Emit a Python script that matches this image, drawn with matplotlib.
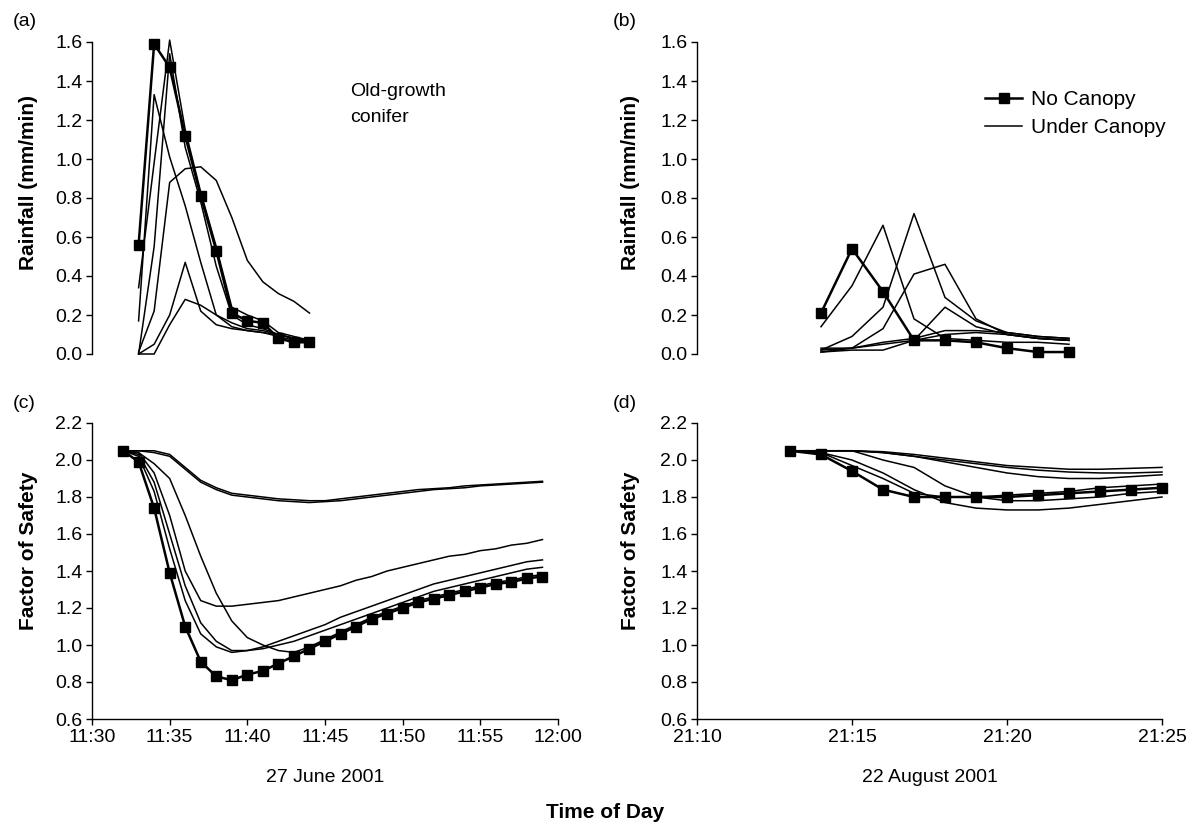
import pandas as pd
import matplotlib
matplotlib.use('Agg')
import matplotlib.pyplot as plt
import matplotlib.dates as mdates

plt.rcParams['font.family'] = ['Liberation Sans', 'DejaVu Sans']

# ---------------- data
# (a) 27 June 2001, rainfall (mm/min), 11:33 - 11:44
rain_a_time = pd.date_range('2001-06-27 11:33', '2001-06-27 11:44', freq='min')
rain_a_open = [0.56, 1.59, 1.47, 1.12, 0.81, 0.53, 0.21, 0.17, 0.16, 0.08, 0.06, 0.06]
rain_a_canopy = [
    [0.01, 0.22, 0.88, 0.95, 0.96, 0.89, 0.70, 0.48, 0.37, 0.31, 0.27, 0.21],
    [0.17, 1.33, 1.01, 0.76, 0.47, 0.20, 0.14, 0.12, 0.11, 0.09, 0.07, 0.06],
    [0.34, 0.98, 1.61, 1.15, 0.83, 0.55, 0.24, 0.20, 0.17, 0.11, 0.09, 0.07],
    [0.00, 0.55, 1.54, 1.06, 0.78, 0.45, 0.20, 0.15, 0.13, 0.10, 0.08, 0.07],
    [0.00, 0.05, 0.20, 0.47, 0.22, 0.15, 0.13, 0.12, 0.11, 0.10, 0.08, 0.06],
    [0.00, 0.00, 0.15, 0.28, 0.25, 0.20, 0.16, 0.13, 0.12, 0.10, 0.08, 0.06],
]

# (b) 22 August 2001, rainfall (mm/min), 21:14 - 21:22
rain_b_time = pd.date_range('2001-08-22 21:14', '2001-08-22 21:22', freq='min')
rain_b_open = [0.21, 0.54, 0.32, 0.07, 0.07, 0.06, 0.03, 0.01, 0.01]
rain_b_canopy = [
    [0.14, 0.35, 0.66, 0.18, 0.08, 0.07, 0.06, 0.06, 0.05],
    [0.02, 0.09, 0.24, 0.72, 0.29, 0.17, 0.11, 0.09, 0.08],
    [0.01, 0.03, 0.13, 0.41, 0.46, 0.18, 0.10, 0.08, 0.07],
    [0.01, 0.02, 0.02, 0.07, 0.24, 0.14, 0.10, 0.08, 0.07],
    [0.02, 0.03, 0.06, 0.08, 0.12, 0.12, 0.11, 0.09, 0.08],
    [0.03, 0.03, 0.05, 0.07, 0.10, 0.11, 0.10, 0.08, 0.07],
]

# (c) factor of safety, 11:32 - 11:59
fos_c_time = pd.date_range('2001-06-27 11:32', '2001-06-27 11:59', freq='min')
fos_c_open = [2.05, 1.99, 1.74, 1.39, 1.10, 0.91, 0.83, 0.81, 0.84, 0.86, 0.90, 0.94,
              0.98, 1.02, 1.06, 1.10, 1.14, 1.17, 1.20, 1.23, 1.25, 1.27, 1.29, 1.31,
              1.33, 1.34, 1.36, 1.37]
fos_c_canopy = [
    [2.05, 2.05, 2.05, 2.03, 1.96, 1.89, 1.85, 1.82, 1.81, 1.80, 1.79, 1.785, 1.78, 1.78,
     1.79, 1.80, 1.81, 1.82, 1.83, 1.84, 1.845, 1.85, 1.86, 1.865, 1.87, 1.875, 1.88, 1.885],
    [2.05, 2.05, 2.04, 2.02, 1.95, 1.88, 1.84, 1.81, 1.80, 1.79, 1.78, 1.775, 1.77, 1.775,
     1.78, 1.79, 1.80, 1.81, 1.82, 1.83, 1.84, 1.845, 1.85, 1.86, 1.865, 1.87, 1.875, 1.88],
    [2.05, 2.04, 1.93, 1.70, 1.40, 1.24, 1.21, 1.21, 1.22, 1.23, 1.24, 1.26, 1.28, 1.30,
     1.32, 1.35, 1.37, 1.40, 1.42, 1.44, 1.46, 1.48, 1.49, 1.51, 1.52, 1.54, 1.55, 1.57],
    [2.05, 2.04, 1.98, 1.90, 1.70, 1.48, 1.28, 1.13, 1.04, 1.00, 0.97, 0.96, 0.99, 1.03,
     1.07, 1.11, 1.15, 1.18, 1.21, 1.24, 1.26, 1.28, 1.30, 1.32, 1.34, 1.35, 1.37, 1.38],
    [2.05, 2.02, 1.83, 1.52, 1.24, 1.06, 0.99, 0.96, 0.97, 0.99, 1.02, 1.05, 1.08, 1.11,
     1.15, 1.18, 1.21, 1.24, 1.27, 1.30, 1.33, 1.35, 1.37, 1.39, 1.41, 1.43, 1.45, 1.46],
    [2.05, 2.03, 1.88, 1.60, 1.32, 1.12, 1.02, 0.97, 0.97, 0.98, 1.00, 1.02, 1.05, 1.08,
     1.11, 1.14, 1.17, 1.20, 1.23, 1.26, 1.29, 1.31, 1.33, 1.35, 1.37, 1.39, 1.41, 1.42],
]

# (d) factor of safety, 21:13 - 21:25
fos_d_time = pd.date_range('2001-08-22 21:13', '2001-08-22 21:25', freq='min')
fos_d_open = [2.05, 2.03, 1.94, 1.84, 1.80, 1.80, 1.80, 1.80, 1.81, 1.82, 1.83, 1.84, 1.85]
fos_d_canopy = [
    [2.05, 2.05, 2.05, 2.045, 2.03, 2.01, 1.99, 1.97, 1.96, 1.95, 1.95, 1.955, 1.96],
    [2.05, 2.05, 2.05, 2.04, 2.02, 2.00, 1.98, 1.96, 1.945, 1.935, 1.93, 1.93, 1.935],
    [2.05, 2.05, 2.05, 2.04, 2.02, 1.99, 1.96, 1.93, 1.91, 1.90, 1.90, 1.91, 1.92],
    [2.05, 2.05, 2.05, 2.00, 1.96, 1.86, 1.80, 1.78, 1.78, 1.79, 1.80, 1.82, 1.83],
    [2.05, 2.04, 2.00, 1.93, 1.84, 1.77, 1.74, 1.73, 1.73, 1.74, 1.76, 1.78, 1.80],
    [2.05, 2.04, 1.97, 1.90, 1.82, 1.80, 1.80, 1.81, 1.82, 1.83, 1.85, 1.86, 1.87],
]

rain_ticks = [0.0, 0.2, 0.4, 0.6, 0.8, 1.0, 1.2, 1.4, 1.6]
fos_ticks = [0.6, 0.8, 1.0, 1.2, 1.4, 1.6, 1.8, 2.0, 2.2]

# ---------------- figure
W, H = 1199, 826
fig = plt.figure(figsize=(W / 100, H / 100), dpi=100)

ax_a = fig.add_axes([92 / W, 1 - 354 / H, 466 / W, 312 / H])
ax_c = fig.add_axes([92 / W, 1 - 719 / H, 466 / W, 296 / H])
ax_b = fig.add_axes([697 / W, 1 - 354 / H, 465 / W, 312 / H])
ax_d = fig.add_axes([697 / W, 1 - 719 / H, 465 / W, 296 / H])

thin = dict(color='black', lw=1.1)
thick = dict(color='black', lw=1.8, marker='s', ms=7, mec='black', mfc='black')

for ax, t, open_vals, canopy in [(ax_a, rain_a_time, rain_a_open, rain_a_canopy),
                                  (ax_b, rain_b_time, rain_b_open, rain_b_canopy),
                                  (ax_c, fos_c_time, fos_c_open, fos_c_canopy),
                                  (ax_d, fos_d_time, fos_d_open, fos_d_canopy)]:
    for i, vals in enumerate(canopy):
        ax.plot(t, vals, label='Under Canopy' if i == 0 else None, clip_on=False, **thin)
    ax.plot(t, open_vals, label='No Canopy', clip_on=False, zorder=5, **thick)

# axes limits / ticks
for ax in (ax_a, ax_c):
    ax.set_xlim(pd.Timestamp('2001-06-27 11:30'), pd.Timestamp('2001-06-27 12:00'))
for ax in (ax_b, ax_d):
    ax.set_xlim(pd.Timestamp('2001-08-22 21:10'), pd.Timestamp('2001-08-22 21:25'))

for ax in (ax_a, ax_b):
    ax.set_ylim(0, 1.6)
    ax.set_yticks(rain_ticks)
    ax.set_yticklabels([f'{v:.1f}' for v in rain_ticks])
    ax.spines['bottom'].set_visible(False)
    ax.tick_params(axis='x', bottom=False, labelbottom=False)
for ax in (ax_c, ax_d):
    ax.set_ylim(0.6, 2.2)
    ax.set_yticks(fos_ticks)
    ax.set_yticklabels([f'{v:.1f}' for v in fos_ticks])
    ax.xaxis.set_major_locator(mdates.MinuteLocator(byminute=range(0, 60, 5)))
    ax.xaxis.set_major_formatter(mdates.DateFormatter('%H:%M'))

for ax in (ax_a, ax_b, ax_c, ax_d):
    ax.spines['top'].set_visible(False)
    ax.spines['right'].set_visible(False)
    ax.spines['left'].set_linewidth(1.0)
    ax.spines['bottom'].set_linewidth(1.0)
    ax.tick_params(direction='out', length=4, width=1.0, labelsize=14, pad=3)
    ax.patch.set_alpha(0)

# labels
for x in (29 / W, 631 / W):
    fig.text(x, 1 - 183 / H, 'Rainfall (mm/min)', rotation=90, ha='center', va='center',
             fontsize=15, fontweight='bold')
    fig.text(x, 1 - 551 / H, 'Factor of Safety', rotation=90, ha='center', va='center',
             fontsize=15, fontweight='bold')

fig.text(13 / W, 1 - 22 / H, '(a)', ha='left', va='center', fontsize=14)
fig.text(613 / W, 1 - 22 / H, '(b)', ha='left', va='center', fontsize=14)
fig.text(13 / W, 1 - 404 / H, '(c)', ha='left', va='center', fontsize=14)
fig.text(613 / W, 1 - 404 / H, '(d)', ha='left', va='center', fontsize=14)

fig.text(350 / W, 1 - 92 / H, 'Old-growth', ha='left', va='center', fontsize=14)
fig.text(350 / W, 1 - 118 / H, 'conifer', ha='left', va='center', fontsize=14)

fig.text(325 / W, 1 - 777 / H, '27 June 2001', ha='center', va='center', fontsize=14)
fig.text(930 / W, 1 - 777 / H, '22 August 2001', ha='center', va='center', fontsize=14)
fig.text(605 / W, 1 - 813 / H, 'Time of Day', ha='center', va='center', fontsize=15,
         fontweight='bold')

handles, labels = ax_b.get_legend_handles_labels()
order = [labels.index('No Canopy'), labels.index('Under Canopy')]
ax_b.legend([handles[i] for i in order], [labels[i] for i in order],
            loc='upper left', bbox_to_anchor=(985 / W, 1 - 90 / H),
            bbox_transform=fig.transFigure, frameon=False, fontsize=15,
            handlelength=1.8, handletextpad=0.4, labelspacing=0.45, borderpad=0,
            borderaxespad=0, numpoints=1)

fig.savefig('out.png', dpi=100)
